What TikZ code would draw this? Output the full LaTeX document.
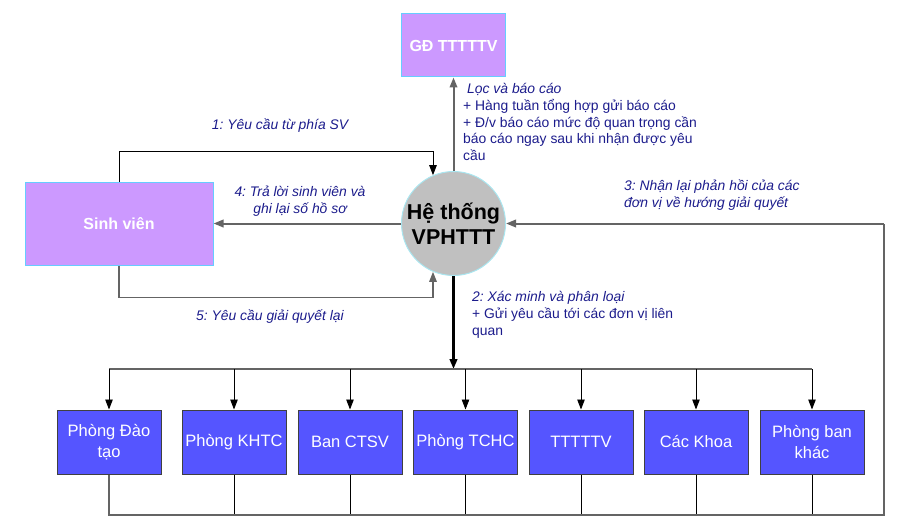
\documentclass[tikz,border=0pt]{standalone}
\usepackage{fontspec}
\setmainfont{Liberation Sans}
\usetikzlibrary{arrows.meta}
\frenchspacing
\definecolor{svfill}{RGB}{204,153,255}
\definecolor{cyanline}{RGB}{102,204,255}
\definecolor{unitfill}{RGB}{85,85,255}
\definecolor{hubfill}{RGB}{192,192,192}
\definecolor{hubline}{RGB}{170,230,240}
\definecolor{lbl}{RGB}{28,28,140}
\definecolor{gline}{RGB}{100,100,100}
\begin{document}
\frenchspacing
\begin{tikzpicture}[x=1pt,y=-1pt,
  arr/.style={-{Triangle[length=10pt,width=7.5pt]}},
  purplebox/.style={draw=cyanline,line width=1pt,fill=svfill,text=white,font=\fontsize{16}{19}\selectfont\bfseries,inner sep=0pt},
  unitbox/.style={draw=black!75,line width=1pt,fill=unitfill,text=white,minimum width=104pt,minimum height=64pt,inner sep=0pt,align=center,font=\fontsize{16.5}{21}\selectfont},
  hubnode/.style={circle,draw=hubline,line width=1pt,fill=hubfill,minimum size=104pt,inner sep=0pt,align=center,font=\fontsize{21.5}{25}\selectfont\bfseries},
  lab/.style={text=lbl,inner sep=0pt,font=\fontsize{13.9}{16.8}\selectfont},
  thinline/.style={draw=black,line width=0.9pt},
  grayline/.style={draw=gline,line width=2pt},
  grayfine/.style={draw=gline,line width=1.3pt},
  bigline/.style={draw=black,line width=3pt}
]
\useasboundingbox (0,0) rectangle (919,527);

% main nodes
\node[purplebox,minimum width=104pt,minimum height=63pt] (gd) at (453.5,45.5) {GĐ TTTTTV};
\node[purplebox,minimum width=188pt,minimum height=83pt] (sv) at (119,223.5) {Sinh viên};
\node[hubnode] (hub) at (453.5,223.5) {Hệ thống\\VPHTTT};

% unit boxes
\node[unitbox] (b1) at (109,442) {Phòng Đào\\tạo};
\node[unitbox] (b2) at (234,442) {Phòng KHTC};
\node[unitbox] (b3) at (350,442) {Ban CTSV};
\node[unitbox] (b4) at (465.5,442) {Phòng TCHC};
\node[unitbox] (b5) at (581,442) {TTTTTV};
\node[unitbox] (b6) at (696,442) {Các Khoa};
\node[unitbox] (b7) at (812,442) {Phòng ban\\khác};

\coordinate (tb) at (453.5,369);
\coordinate (rc) at (884,515);

% connectors
\draw[grayline,arr] (hub.north) -- (gd.south);
\draw[thinline,arr] (sv.north) -- ++(0,-30) -| (hub.113);
\draw[grayline,arr] (hub.west) -- (sv.east);
\draw[grayfine,arr] (sv.south) -- ++(0,32) -| (hub.247);
\draw[bigline,arr] (hub.south) -- (tb);
\draw[grayline] (b1.north |- tb) -- (b7.north |- tb);
\foreach \b in {b1,b2,b3,b4,b5,b6,b7}{
  \draw[thinline,arr] (\b.north |- tb) -- (\b.north);
}
\foreach \b in {b2,b3,b4,b5,b6,b7}{
  \draw[thinline] (\b.south) -- (\b.south |- rc);
}
\draw[grayfine] (b1.south) |- (rc) -- (rc |- hub.east);
\draw[grayline,arr] (rc |- hub.east) -- (hub.east);

% labels
\node[lab,font=\fontsize{13.9}{16.8}\selectfont\itshape] (l1) at (280,126) {1: Yêu cầu từ phía SV};
\node[lab,align=center,font=\fontsize{13.9}{16.8}\selectfont\itshape] (l4) at (300,201) {4: Trả lời sinh viên và\\ghi lại số hồ sơ};
\node[lab,font=\fontsize{13.9}{16.8}\selectfont\itshape] (l5) at (270,316.5) {5: Yêu cầu giải quyết lại};
\node[lab,align=left,anchor=north west] (l0) at (463,83) {\hspace{4pt}\textit{Lọc và báo cáo}\\+ Hàng tuần tổng hợp gửi báo cáo\\+ Đ/v báo cáo mức độ quan trọng cần\\báo cáo ngay sau khi nhận được yêu\\cầu};
\node[lab,align=left,anchor=north west] (l2) at (472,291.5) {\textit{2: Xác minh và phân loại}\\+ Gửi yêu cầu tới các đơn vị liên\\quan};
\node[lab,align=left,anchor=north west,font=\fontsize{13.9}{16.8}\selectfont\itshape] (l3) at (624,180) {3: Nhận lại phản hồi của các\\đơn vị về hướng giải quyết};
\end{tikzpicture}
\end{document}
